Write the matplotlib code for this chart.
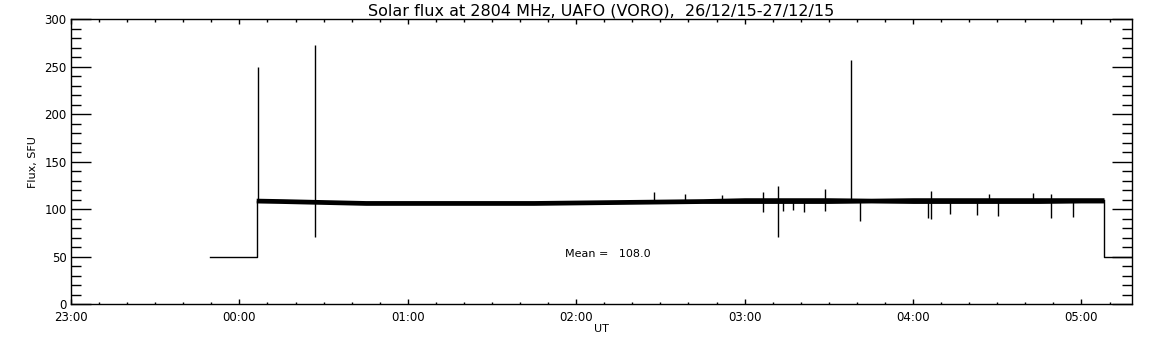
import matplotlib
matplotlib.use("Agg")
import matplotlib.pyplot as plt
from matplotlib.ticker import MultipleLocator

# time axis in hours after 23:00 UT (26/12/15)
tick_hours = [0, 1, 2, 3, 4, 5, 6]
tick_labels = ["23:00", "00:00", "01:00", "02:00", "03:00", "04:00", "05:00"]

# calibration level before / after the observation
cal_start = [0.826, 1.103]
cal_end = [6.134, 6.30]
cal_level = 50

# noise band of the flux record (lower / upper envelope)
band_t = [1.10, 1.25, 1.50, 1.75, 2.00, 2.25, 2.50, 2.75, 3.00, 3.25, 3.50,
          3.75, 4.00, 4.25, 4.50, 4.75, 5.00, 5.25, 5.50, 5.75, 6.00, 6.134]
band_hi = [111.5, 111, 110, 109, 109, 109, 109, 109, 109.5, 110, 110.5,
           111, 112, 112, 112, 111.5, 112, 112, 112, 112, 112, 112]
band_lo = [106.5, 106, 105, 104, 104, 104, 104, 104, 104.5, 105, 105.5,
           106, 106, 106, 106, 106.5, 106, 106, 106, 106, 106.5, 106.5]

# spikes and dips: time, lowest value, highest value
spike_t = [1.113, 1.452, 4.629, 4.199, 3.460, 3.648, 3.866, 4.112, 4.225,
           4.476, 4.684, 5.104, 5.219, 5.381, 5.506, 5.454, 5.714, 5.817, 5.952,
           4.290, 4.350, 5.090]
spike_lo = [108, 71, 108, 71, 108, 108, 108, 97, 98,
            98, 88, 90, 95, 94, 93, 108, 108, 91, 92,
            99, 97, 91]
spike_hi = [250, 273, 257, 124, 118, 116, 115, 118, 110,
            121, 110, 119, 110, 110, 110, 116, 117, 116, 110,
            110, 110, 110]

mean_flux = 108.0

fig = plt.figure(figsize=(11.52, 3.45), dpi=100)
ax = fig.add_axes([0.0616, 0.1188, 0.9210, 0.8252])

band_mid = (band_lo[0] + band_hi[0]) / 2
ax.plot([cal_start[0], cal_start[1], cal_start[1]], [cal_level, cal_level, band_mid],
        color="black", lw=1)
band_mid_end = (band_lo[-1] + band_hi[-1]) / 2
ax.plot([cal_end[0], cal_end[0], cal_end[1]], [band_mid_end, cal_level, cal_level],
        color="black", lw=1)
ax.fill_between(band_t, band_lo, band_hi, color="black", lw=0)
ax.vlines(spike_t, spike_lo, spike_hi, color="black", lw=1)

ax.text(2.935, 53, "Mean =   %.1f" % mean_flux, fontsize=8, va="center", ha="left")

ax.set_xlim(0, 6.30)
ax.set_ylim(0, 300)
ax.set_xticks(tick_hours)
ax.set_xticklabels(tick_labels)
ax.xaxis.set_minor_locator(MultipleLocator(1 / 6))
ax.yaxis.set_major_locator(MultipleLocator(50))
ax.yaxis.set_minor_locator(MultipleLocator(10))

ax.tick_params(axis="both", which="both", direction="in", top=True, right=True,
               labelsize=8.5, width=1, color="black")
ax.tick_params(axis="y", which="major", length=14.4, pad=3)
ax.tick_params(axis="y", which="minor", length=7.2)
ax.tick_params(axis="x", which="major", length=3.6, pad=5)
ax.tick_params(axis="x", which="minor", length=1.8)
for s in ax.spines.values():
    s.set_linewidth(1)

ax.set_xlabel("UT", fontsize=8, labelpad=0)
ax.set_ylabel("Flux, SFU", fontsize=8, labelpad=5)
ax.set_title("Solar flux at 2804 MHz, UAFO (VORO),  26/12/15-27/12/15", fontsize=11.5, pad=3)

fig.savefig("out.png", dpi=100)
